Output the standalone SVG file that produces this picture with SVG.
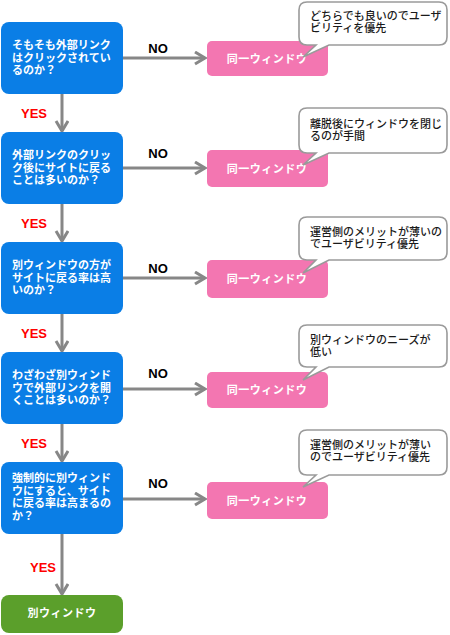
<svg xmlns="http://www.w3.org/2000/svg" width="450" height="635" viewBox="0 0 450 635">
<defs>
<style>
.q{fill:#0a7ee6}
.p{fill:#f376b1}
.g{fill:#5b9f2b}
.qt{font-family:"Noto Sans CJK JP","Noto Sans",sans-serif;font-size:11px;font-weight:bold;fill:#fff}
.pt{font-family:"Noto Sans CJK JP","Noto Sans",sans-serif;font-size:11px;font-weight:bold;fill:#fff;text-anchor:middle;letter-spacing:0.5px}
.ct{font-family:"Noto Sans CJK JP","Noto Sans",sans-serif;font-size:11px;font-weight:500;fill:#1a1a1a}
.cb{fill:#fff;stroke:#9a9a9a;stroke-width:1.6}
.no{font-family:"Liberation Sans","DejaVu Sans",sans-serif;font-size:13px;font-weight:bold;fill:#000;text-anchor:middle}
.yes{font-family:"Liberation Sans","DejaVu Sans",sans-serif;font-size:13px;font-weight:bold;fill:#f00;text-anchor:middle}
.ln{stroke:#878787;stroke-width:3;fill:none}
</style>
<marker id="ah" markerUnits="userSpaceOnUse" markerWidth="14" markerHeight="16" refX="11" refY="7" orient="auto">
<path d="M1,1 L11,7 L1,13" fill="none" stroke="#878787" stroke-width="3"/>
</marker>
</defs>
<rect width="450" height="635" fill="#fff"/>

<g id="connectors">
<line class="ln" x1="123" y1="58" x2="205" y2="58" marker-end="url(#ah)"/>
<line class="ln" x1="123" y1="168" x2="205" y2="168" marker-end="url(#ah)"/>
<line class="ln" x1="123" y1="278" x2="205" y2="278" marker-end="url(#ah)"/>
<line class="ln" x1="123" y1="389" x2="205" y2="389" marker-end="url(#ah)"/>
<line class="ln" x1="123" y1="499" x2="205" y2="499" marker-end="url(#ah)"/>
<line class="ln" x1="62" y1="94" x2="62" y2="131" marker-end="url(#ah)"/>
<line class="ln" x1="62" y1="204" x2="62" y2="241" marker-end="url(#ah)"/>
<line class="ln" x1="62" y1="314" x2="62" y2="351" marker-end="url(#ah)"/>
<line class="ln" x1="62" y1="424" x2="62" y2="461" marker-end="url(#ah)"/>
<line class="ln" x1="62" y1="534" x2="62" y2="594" marker-end="url(#ah)"/>
<text class="no" x="158" y="53">NO</text>
<text class="no" x="158" y="158">NO</text>
<text class="no" x="158" y="273">NO</text>
<text class="no" x="158" y="378">NO</text>
<text class="no" x="158" y="488">NO</text>
<text class="yes" x="34" y="118">YES</text>
<text class="yes" x="34" y="228">YES</text>
<text class="yes" x="34" y="338">YES</text>
<text class="yes" x="34" y="448">YES</text>
<text class="yes" x="43" y="572">YES</text>
</g>

<g id="q1">
<rect class="q" x="1" y="22" width="122" height="72" rx="8"/>
<text class="qt"><tspan x="12" y="49">そもそも外部リンク</tspan><tspan x="12" y="61.5">はクリックされてい</tspan><tspan x="12" y="74">るのか？</tspan></text>
</g>
<g id="q2">
<rect class="q" x="1" y="132" width="122" height="72" rx="8"/>
<text class="qt"><tspan x="12" y="159">外部リンクのクリッ</tspan><tspan x="12" y="171.5">ク後にサイトに戻る</tspan><tspan x="12" y="184">ことは多いのか？</tspan></text>
</g>
<g id="q3">
<rect class="q" x="1" y="242" width="122" height="72" rx="8"/>
<text class="qt"><tspan x="12" y="269">別ウィンドウの方が</tspan><tspan x="12" y="281.5">サイトに戻る率は高</tspan><tspan x="12" y="294">いのか？</tspan></text>
</g>
<g id="q4">
<rect class="q" x="1" y="352" width="122" height="72" rx="8"/>
<text class="qt"><tspan x="12" y="379">わざわざ別ウィンド</tspan><tspan x="12" y="391.5">ウで外部リンクを開</tspan><tspan x="12" y="404">くことは多いのか？</tspan></text>
</g>
<g id="q5">
<rect class="q" x="1" y="462" width="122" height="72" rx="8"/>
<text class="qt"><tspan x="12" y="482">強制的に別ウィンド</tspan><tspan x="12" y="494.5">ウにすると、サイト</tspan><tspan x="12" y="507">に戻る率は高まるの</tspan><tspan x="12" y="519.5">か？</tspan></text>
</g>
<g id="result-yes">
<rect class="g" x="1" y="595" width="122" height="38" rx="8"/>
<text class="pt" x="62" y="617">別ウィンドウ</text>
</g>

<g id="n1">
<rect class="p" x="207" y="41" width="121" height="35" rx="5"/>
<text class="pt" x="267" y="63">同一ウィンドウ</text>
</g>
<g id="n2">
<rect class="p" x="207" y="150" width="121" height="37" rx="5"/>
<text class="pt" x="267" y="173">同一ウィンドウ</text>
</g>
<g id="n3">
<rect class="p" x="207" y="260" width="121" height="38" rx="5"/>
<text class="pt" x="267" y="283">同一ウィンドウ</text>
</g>
<g id="n4">
<rect class="p" x="207" y="372" width="121" height="36" rx="5"/>
<text class="pt" x="267" y="394">同一ウィンドウ</text>
</g>
<g id="n5">
<rect class="p" x="207" y="482" width="121" height="37" rx="5"/>
<text class="pt" x="267" y="505">同一ウィンドウ</text>
</g>

<g id="c1">
<path class="cb" d="M307,2 H439 Q447,2 447,10 V37 Q447,45 439,45 H329 L303,57 L316,45 H307 Q299,45 299,37 V10 Q299,2 307,2 Z"/>
<text class="ct"><tspan x="310" y="20">どちらでも良いのでユーザ</tspan><tspan x="310" y="32">ビリティを優先</tspan></text>
</g>
<g id="c2">
<path class="cb" d="M307,108 H439 Q447,108 447,116 V145 Q447,153 439,153 H329 L303,165 L316,153 H307 Q299,153 299,145 V116 Q299,108 307,108 Z"/>
<text class="ct"><tspan x="310" y="128">離脱後にウィンドウを閉じ</tspan><tspan x="310" y="140">るのが手間</tspan></text>
</g>
<g id="c3">
<path class="cb" d="M307,217 H439 Q447,217 447,225 V252 Q447,260 439,260 H329 L303,273 L316,260 H307 Q299,260 299,252 V225 Q299,217 307,217 Z"/>
<text class="ct"><tspan x="310" y="236">運営側のメリットが薄いの</tspan><tspan x="310" y="248">でユーザビリティ優先</tspan></text>
</g>
<g id="c4">
<path class="cb" d="M307,325 H439 Q447,325 447,333 V359 Q447,367 439,367 H329 L303,380 L316,367 H307 Q299,367 299,359 V333 Q299,325 307,325 Z"/>
<text class="ct"><tspan x="310" y="344">別ウィンドウのニーズが</tspan><tspan x="310" y="356">低い</tspan></text>
</g>
<g id="c5">
<path class="cb" d="M307,430 H439 Q447,430 447,438 V467 Q447,475 439,475 H329 L303,487 L316,475 H307 Q299,475 299,467 V438 Q299,430 307,430 Z"/>
<text class="ct"><tspan x="310" y="449">運営側のメリットが薄い</tspan><tspan x="310" y="461">のでユーザビリティ優先</tspan></text>
</g>
</svg>
